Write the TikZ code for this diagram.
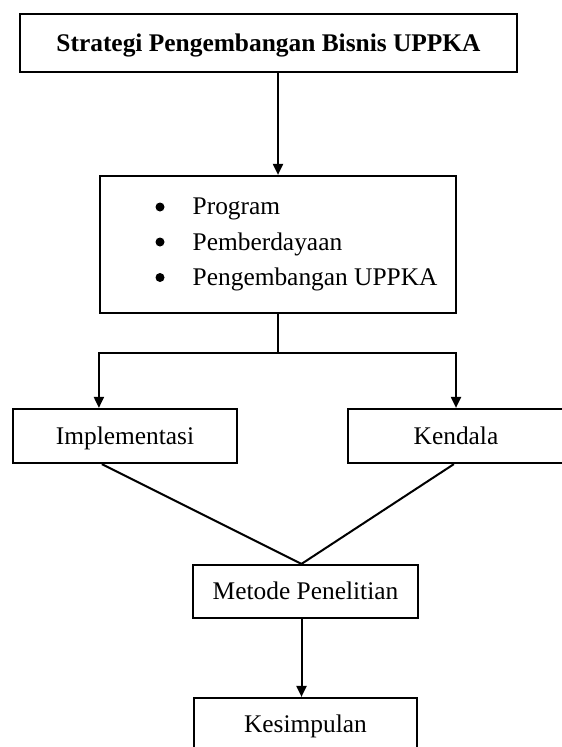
\documentclass[tikz,border=0pt]{standalone}
\usepackage{fontspec}
\setmainfont{Liberation Serif}
\usetikzlibrary{arrows.meta,calc}
\begin{document}
\begin{tikzpicture}[x=1pt,y=-1pt,
  font=\fontsize{25.4}{30}\selectfont,
  box/.style={draw,line width=2.2pt,rectangle,inner sep=0pt,text height=21.6pt,text depth=5.6pt},
  txt/.style={inner sep=0pt},
  dot/.style={circle,fill,inner sep=0pt,minimum size=9pt},
  arr/.style={line width=2pt,-{Triangle[length=11pt,width=10pt]}},
  ln/.style={line width=2pt}]
\clip (0,0) rectangle (562,747);
% boxes
\node[box,minimum width=497pt,minimum height=58pt] (top) at (268.5,43) {\bfseries Strategi Pengembangan Bisnis UPPKA};
\node[box,minimum width=356pt,minimum height=137pt] (prog) at (278,244.5) {};
\node[dot] (b1) at (160,207) {};
\node[dot] (b2) at (160,242) {};
\node[dot] (b3) at (160,277.5) {};
\node[txt,anchor=base west] (t1) at (192.5,214.5) {Program};
\node[txt,anchor=base west] (t2) at (192.5,250) {Pemberdayaan};
\node[txt,anchor=base west] (t3) at (192.5,285.5) {Pengembangan UPPKA};
\node[box,minimum width=224pt,minimum height=54pt] (impl) at (125,436) {Implementasi};
\node[box,minimum width=216pt,minimum height=54pt] (kend) at (456,436) {Kendala};
\node[box,minimum width=225pt,minimum height=53pt] (metode) at (305.5,591.5) {Metode Penelitian};
\node[box,minimum width=223pt,minimum height=53pt] (kes) at (305.5,724.5) {Kesimpulan};
% connectors
\draw[arr] (prog.north |- top.south) -- (prog.north);
\coordinate (fork) at ($(prog.south)+(0,39)$);
\draw[ln] (prog.south) -- (fork);
\draw[arr] (fork) -| (prog.west |- impl.north);
\draw[arr] (fork) -| (kend.north);
\coordinate (m) at ($(metode.north)+(-4,0)$);
\draw[ln] ($(impl.south west)+(90,0)$) -- (m);
\draw[ln] ($(kend.south west)+(107,0)$) -- (m);
\draw[arr] (metode.south -| m) -- (kes.north -| m);
\end{tikzpicture}
\end{document}
